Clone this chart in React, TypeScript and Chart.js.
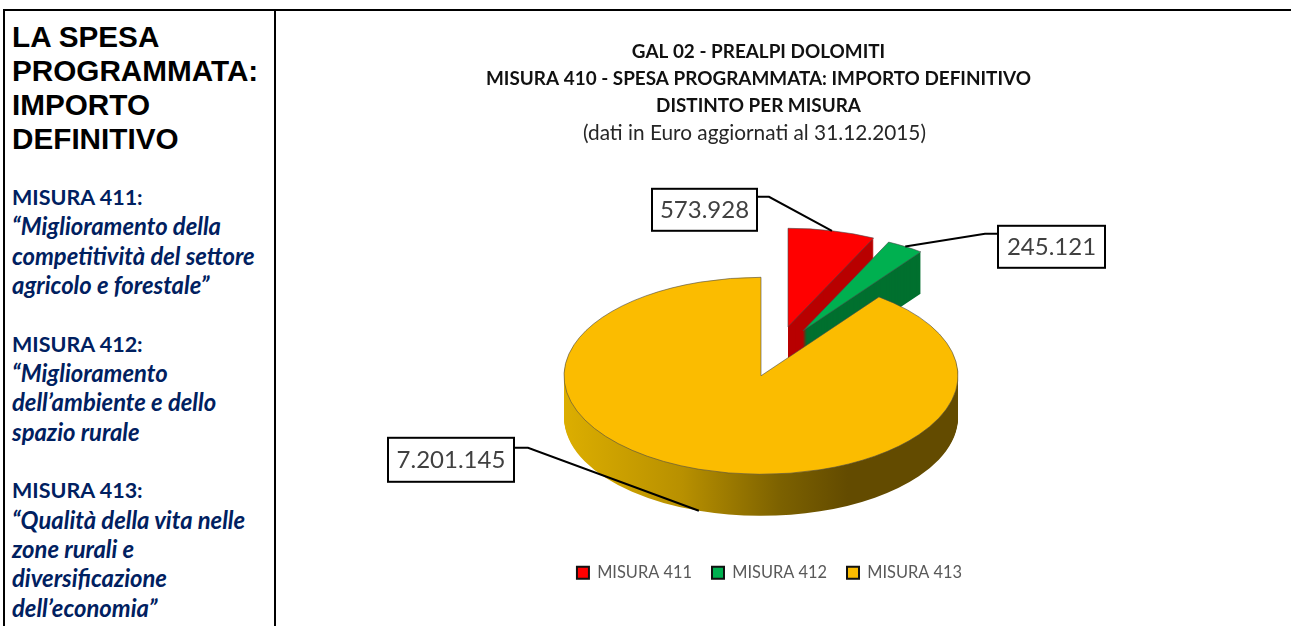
import React, { useEffect, useRef } from "react";
import { Chart, registerables } from "chart.js";

Chart.register(...registerables);

const categories = ["MISURA 411", "MISURA 412", "MISURA 413"];
const spesaValues = [573928, 245121, 7201145];
const titleLines = [
  "GAL 02 - PREALPI DOLOMITI",
  "MISURA 410 - SPESA PROGRAMMATA: IMPORTO DEFINITIVO",
  "DISTINTO PER MISURA",
];
const subtitleLine = "(dati in Euro aggiornati al 31.12.2015)";
const headingLines = ["LA SPESA", "PROGRAMMATA:", "IMPORTO", "DEFINITIVO"];
const sideLines: [string, boolean][] = [
  ["MISURA 411:", false],
  ["“Miglioramento della", true],
  ["competitività del settore", true],
  ["agricolo e forestale”", true],
  ["\u00a0", false],
  ["MISURA 412:", false],
  ["“Miglioramento", true],
  ["dell’ambiente e dello", true],
  ["spazio rurale", true],
  ["\u00a0", false],
  ["MISURA 413:", false],
  ["“Qualità della vita nelle", true],
  ["zone rurali e", true],
  ["diversificazione", true],
  ["dell’economia”", true],
];

const topColors = ["#ff0000", "#00b050", "#fbbc00"];
const sideColors = ["#b80000", "#00702f", ""];
const goldWall: [number, string][] = [
  [0, "#dcae00"],
  [0.3, "#b89000"],
  [0.55, "#7c6100"],
  [0.72, "#634b00"],
  [1, "#634b00"],
];
// Exploded-slice shift in the pie's unflattened plane, and the look of the 3D view.
const explode = [
  [27, -98],
  [42, -90],
  [0, 0],
];
const FLATTEN = 0.5;
const DEPTH = 41.5;
const PIE_RADIUS = 197;

// Callouts, relative to the pie centre: box and elbow of the leader.
const callouts = [
  { box: [-109, -187, 105, 42], elbow: [[-5, -179], [8, -179]], wall: false },
  { box: [237, -150, 107, 42], elbow: [[237, -142], [224, -142]], wall: false },
  { box: [-373, 62, 126, 44], elbow: [[-247, 72], [-233, 72]], wall: true },
];

const fmt = (n: number) => String(n).replace(/\B(?=(\d{3})+$)/g, ".");

const pie3d = {
  id: "pie3d",
  afterLayout(chart: any) {
    chart.legend.left += 8.5;
    chart.legend.right += 8.5;
    chart.boxes.forEach((b: any) => {
      if (b === chart.legend || !b.options || b.options.text === undefined) return;
      const shift = b.options.text === subtitleLine ? 6.5 : 2.5;
      b.left -= shift;
      b.right -= shift;
    });
  },
  beforeDatasetDraw(chart: any) {
    const ctx = chart.ctx;
    const arcs = chart.getDatasetMeta(0).data;
    arcs.forEach((arc: any, i: number) => {
      const base = arc.options;
      ctx.save();
      ctx.translate(arc.x, arc.y);
      ctx.scale(1, FLATTEN);
      ctx.translate(-arc.x, -arc.y);
      ctx.translate(explode[i][0], explode[i][1]);
      let fill: any = sideColors[i];
      if (!fill) {
        fill = ctx.createLinearGradient(arc.x - arc.outerRadius, 0, arc.x + arc.outerRadius, 0);
        goldWall.forEach(([s, c]) => fill.addColorStop(s, c));
      }
      arc.options = { ...base, backgroundColor: fill, borderColor: fill, borderWidth: 0 };
      for (let k = DEPTH; k >= 1; k--) {
        ctx.save();
        ctx.translate(0, k / FLATTEN);
        arc.draw(ctx);
        ctx.restore();
      }
      arc.options = base;
      arc.draw(ctx);
      ctx.restore();
    });
    return false;
  },
  afterDraw(chart: any) {
    const ctx = chart.ctx;
    const arcs = chart.getDatasetMeta(0).data;
    arcs.forEach((arc: any, i: number) => {
      const c = callouts[i];
      const mid = (arc.startAngle + arc.endAngle) / 2;
      const tipX = arc.x + explode[i][0] + Math.cos(mid) * arc.outerRadius;
      const tipY =
        arc.y + (explode[i][1] + Math.sin(mid) * arc.outerRadius) * FLATTEN + (c.wall ? DEPTH : 0);
      const [bx, by, bw, bh] = c.box;
      ctx.save();
      ctx.strokeStyle = "#000";
      ctx.lineWidth = 2;
      ctx.beginPath();
      ctx.moveTo(arc.x + c.elbow[0][0], arc.y + c.elbow[0][1]);
      ctx.lineTo(arc.x + c.elbow[1][0], arc.y + c.elbow[1][1]);
      ctx.lineTo(tipX, tipY);
      ctx.stroke();
      ctx.fillStyle = "#fff";
      ctx.fillRect(arc.x + bx, arc.y + by, bw, bh);
      ctx.strokeRect(arc.x + bx, arc.y + by, bw, bh);
      ctx.fillStyle = "#404040";
      ctx.font = "24px Lato";
      ctx.textAlign = "center";
      ctx.textBaseline = "middle";
      ctx.fillText(fmt(spesaValues[i]), arc.x + bx + bw / 2, arc.y + by + bh / 2);
      ctx.restore();
    });
  },
};

export default function App() {
  const ref = useRef<HTMLCanvasElement>(null);
  useEffect(() => {
    const chart = new Chart(ref.current as HTMLCanvasElement, {
      type: "pie",
      data: {
        labels: categories,
        datasets: [
          {
            data: spesaValues,
            backgroundColor: topColors,
            borderColor: "#4a4a4a",
            borderWidth: 0.8,
            radius: PIE_RADIUS,
          } as any,
        ],
      },
      plugins: [pie3d as any],
      options: {
        animation: false,
        responsive: false,
        layout: { padding: { left: 0, right: 0, top: 0, bottom: 35 } },
        plugins: {
          tooltip: { enabled: false },
          title: {
            display: true,
            text: titleLines,
            color: "#111",
            font: { family: "Lato", size: 18.9, weight: "bold", lineHeight: 1.41 },
            padding: { top: 39, bottom: 0 },
          },
          subtitle: {
            display: true,
            text: subtitleLine,
            color: "#262626",
            font: { family: "Lato", size: 20.8, weight: "normal", lineHeight: 1.3 },
            padding: { top: 1, bottom: 60 },
          },
          legend: {
            display: true,
            position: "bottom",
            labels: {
              color: "#595959",
              font: { family: "Lato", size: 16.4 },
              boxWidth: 12,
              boxHeight: 12,
              padding: 20,
              generateLabels(c: any) {
                return Chart.overrides.pie.plugins.legend.labels
                  .generateLabels(c)
                  .map((l: any) => ({ ...l, strokeStyle: "#111", lineWidth: 2 }));
              },
            },
          },
        },
      } as any,
    });
    return () => chart.destroy();
  }, []);

  const line = (s: React.CSSProperties) => ({ position: "absolute", background: "#000", ...s } as React.CSSProperties);
  return (
    <div style={{ position: "absolute", left: 0, top: 0, width: 1291, height: 626, overflow: "hidden", background: "#fff" }}>
      <div style={line({ left: 3, top: 9, width: 1288, height: 2 })} />
      <div style={line({ left: 3, top: 9, width: 2, height: 617 })} />
      <div style={line({ left: 274, top: 9, width: 2, height: 617 })} />
      <div style={{ position: "absolute", left: 12, top: 20, font: "bold 29.7px/34px 'Liberation Sans'", color: "#000", whiteSpace: "nowrap" }}>
        {headingLines.map((t) => (
          <div key={t}>{t}</div>
        ))}
      </div>
      <div style={{ position: "absolute", left: 12, top: 183, font: "bold 21.5px/29.35px Lato", color: "#002060", whiteSpace: "nowrap" }}>
        {sideLines.map(([t, it], i) => (
          <div key={i} style={it ? { fontStyle: "italic", fontSize: 23.8 } : undefined}>{t}</div>
        ))}
      </div>
      <canvas ref={ref} width={970} height={626} style={{ position: "absolute", left: 276, top: 0 }} />
    </div>
  );
}
